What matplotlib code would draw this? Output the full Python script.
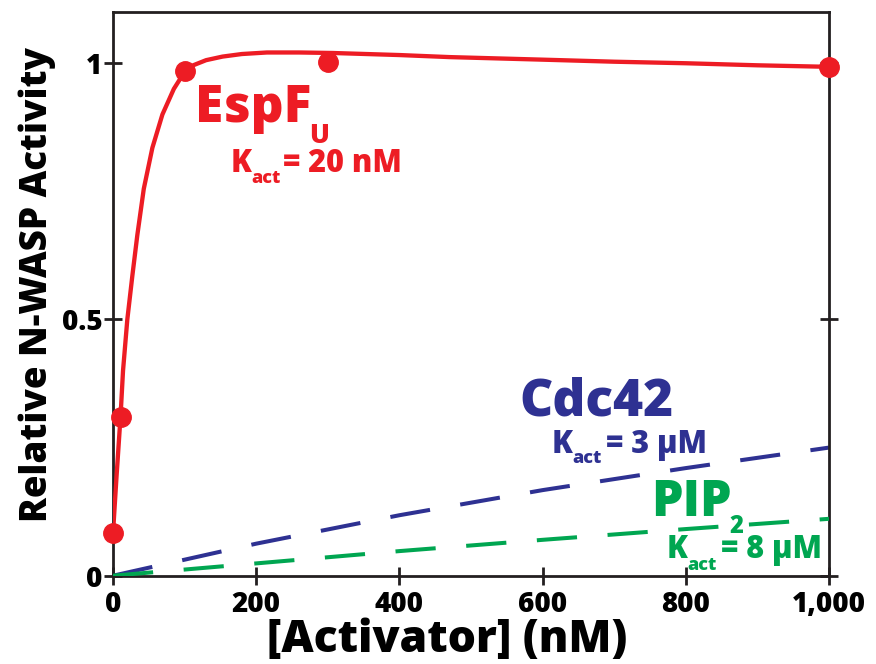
import matplotlib
matplotlib.use("Agg")
import matplotlib.pyplot as plt

# ---- data ----
espf_x = [0, 10.5, 100, 300, 1000]
espf_y = [0.083, 0.31, 0.985, 1.003, 0.993]

espf_fit_x = [0, 5, 10.5, 14, 20, 27, 34, 43, 55, 69, 85, 99, 112, 130, 153, 180,
              215, 260, 307, 400, 470, 600, 700, 800, 900, 1000]
espf_fit_y = [0.083, 0.195, 0.31, 0.40, 0.50, 0.585, 0.665, 0.755, 0.835, 0.90,
              0.95, 0.981, 0.996, 1.006, 1.013, 1.018, 1.021, 1.021, 1.02, 1.016,
              1.012, 1.007, 1.003, 1.0, 0.996, 0.993]

conc_x = [0, 200, 400, 600, 800, 1000]
cdc42_y = [0.0, 0.0625, 0.118, 0.167, 0.21, 0.25]
pip2_y = [0.0, 0.024, 0.048, 0.07, 0.091, 0.111]

x_ticks = [0, 200, 400, 600, 800, 1000]
x_ticklabels = ["0", "200", "400", "600", "800", "1,000"]
y_ticks = [0, 0.5, 1]
y_ticklabels = ["0", "0.5", "1"]

RED = "#ED1C24"
BLUE = "#2E3192"
GREEN = "#00A651"
DARK = "#231F20"
FONT = ["Open Sans", "DejaVu Sans"]
WEIGHT = "heavy"

plt.rcParams["font.family"] = FONT
plt.rcParams["font.weight"] = WEIGHT

W, H = 876, 664
fig = plt.figure(figsize=(W / 100, H / 100), dpi=100)
ax = fig.add_axes([113 / W, (H - 575.7) / H, (829 - 113) / W, (575.7 - 12) / H])

ax.plot(conc_x, cdc42_y, color=BLUE, lw=2.9, dashes=(10, 7.6), dash_capstyle="butt", zorder=2)
ax.plot(conc_x, pip2_y, color=GREEN, lw=2.9, dashes=(10, 7.6), dash_capstyle="butt", zorder=3)
ax.plot(espf_fit_x, espf_fit_y, color=RED, lw=3.1, zorder=4, solid_joinstyle="round")
ax.plot(espf_x, espf_y, "o", color=RED, ms=14, zorder=5, clip_on=False)

ax.set_xlim(0, 1000)
ax.set_ylim(0, 1.1)
ax.set_xticks(x_ticks)
ax.set_xticklabels(x_ticklabels)
ax.set_yticks(y_ticks)
ax.set_yticklabels(y_ticklabels)

for s in ax.spines.values():
    s.set_linewidth(2.0)
    s.set_color(DARK)
ax.tick_params(axis="both", direction="inout", length=13, width=2.0, color=DARK,
               labelsize=20, labelcolor="black")
ax.tick_params(axis="y", right=True, pad=1)
ax.tick_params(axis="x", pad=4)
for lab in ax.get_xticklabels() + ax.get_yticklabels():
    lab.set_fontweight(WEIGHT)

fig.text(447 / W, 1 - 652 / H, "[Activator] (nM)", fontsize=32, fontweight=WEIGHT,
         ha="center", va="baseline", color="black")
fig.text(37 / W, 1 - 284 / H, "Relative N-WASP Activity", fontsize=26.5, fontweight=WEIGHT,
         ha="center", va="center", rotation=90, color="black")

def T(px, py, s, color, size, ha="left"):
    fig.text(px / W, 1 - py / H, s, color=color, fontsize=size, fontweight=WEIGHT,
             ha=ha, va="baseline")

# EspF_U
T(195, 122, "EspF", RED, 37)
T(309, 143, "U", RED, 19)
T(231, 172, "K", RED, 22)
T(251, 183, "act", RED, 13)
T(283, 172, "= 20 nM", RED, 22)
# Cdc42
T(519, 415, "Cdc42", BLUE, 37)
T(552, 453, "K", BLUE, 22)
T(572, 463, "act", BLUE, 13)
T(606, 453, "= 3 \u03bcM", BLUE, 22)
# PIP2
T(651, 516, "PIP", GREEN, 36)
T(729, 533, "2", GREEN, 17)
T(667, 558, "K", GREEN, 22)
T(687, 570, "act", GREEN, 13)
T(721, 558, "= 8 \u03bcM", GREEN, 22)

fig.savefig("out.png", dpi=100)
